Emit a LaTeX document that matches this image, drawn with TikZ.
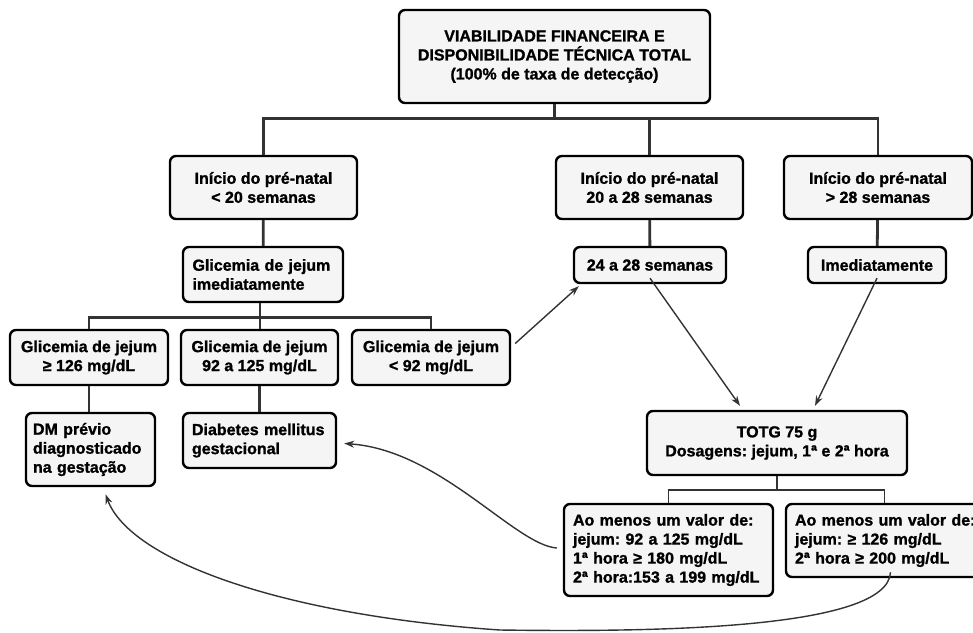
\documentclass[tikz,border=0pt]{standalone}
\usepackage{fontspec}
\setmainfont{Liberation Sans}[BoldFeatures={FakeBold=1.2}]
\usetikzlibrary{arrows.meta}
\definecolor{boxfill}{RGB}{245,245,245}
\definecolor{darkline}{RGB}{51,51,51}

\begin{document}
\frenchspacing
\begin{tikzpicture}[x=1pt,y=-1pt,
  box/.style={draw,line width=2.4pt,rounded corners=6pt,fill=boxfill,align=center,inner sep=0pt,font=\fontsize{16}{19}\selectfont\bfseries},
  lbox/.style={box,align=left,inner xsep=9pt},
  trunk/.style={line width=2.8pt,darkline},
  branch/.style={line width=1.8pt,darkline},
  arrow/.style={-{Stealth[length=10pt,width=7pt]},line width=1.4pt,darkline}
]
  \useasboundingbox (0,0) rectangle (973,632);

  \node[box,minimum width=311,minimum height=93] (top) at (554.5,56.5) {VIABILIDADE FINANCEIRA E\\DISPONIBILIDADE TÉCNICA TOTAL\\(100\% de taxa de detecção)};

  \node[box,minimum width=187,minimum height=63] (pn1) at (263.5,187.5) {Início do pré-natal\\< 20 semanas};
  \node[box,minimum width=187,minimum height=63] (pn2) at (649.5,187.5) {Início do pré-natal\\ 20 a 28 semanas};
  \node[box,minimum width=188,minimum height=63] (pn3) at (878,187.5) {Início do pré-natal\\ > 28 semanas};

  \node[lbox,text width=141,inner xsep=9.5pt,minimum height=55] (gj) at (263,274.5) {Glicemia de jejum\\imediatamente};
  \node[box,minimum width=152,minimum height=36] (i24) at (650,265) {24 a 28 semanas};
  \node[box,minimum width=138,minimum height=36] (imed) at (877,265) {Imediatamente};

  \node[box,minimum width=158,minimum height=55] (g126) at (89,357.5) {Glicemia de jejum\\≥ 126 mg/dL};
  \node[box,minimum width=157,minimum height=55] (g92a) at (259.5,357.5) {Glicemia de jejum\\92 a 125 mg/dL};
  \node[box,minimum width=158,minimum height=55] (g92) at (431,357.5) {Glicemia de jejum\\< 92 mg/dL};

  \node[lbox,text width=115,inner xsep=7pt,minimum height=73] (dmp) at (90.5,449.5) {DM prévio\\diagnosticado\\na gestação};
  \node[lbox,text width=135,minimum height=55] (dmg) at (259.5,440.5) {Diabetes mellitus\\gestacional};

  \node[box,minimum width=260,minimum height=64] (totg) at (777,443) {TOTG 75 g\\Dosagens: jejum, 1ª e 2ª hora};

  \node[lbox,text width=191,minimum height=92] (va) at (668.5,550) {Ao menos um valor de:\\jejum: 92 a 125 mg/dL\\1ª hora ≥ 180 mg/dL\\2ª hora:153 a 199 mg/dL};
  \node[lbox,text width=191,minimum height=73] (vb) at (890.5,540.5) {Ao menos um valor de:\\jejum: ≥ 126 mg/dL\\2ª hora ≥ 200 mg/dL};

  \draw[trunk] (top.south) -- ++(0,14) -| (pn1.north);
  \draw[trunk] (top.south) -- ++(0,14) -| (pn2.north);
  \draw[trunk] (top.south) -- ++(0,14) -| (pn3.north);
  \draw[trunk] (pn1) -- (gj);
  \draw[trunk] (pn2) -- (i24);
  \draw[trunk] (pn3) -- (imed);

  \draw[trunk] ([xshift=-3pt]gj.south) -- ++(0,14) -| (g126.north);
  \draw[trunk] ([xshift=-3pt]gj.south) -- ([xshift=-3pt]gj.south |- g92a.north);
  \draw[trunk] ([xshift=-3pt]gj.south) -- ++(0,14) -| (g92.north);
  \draw[trunk] (g126) -- (g126 |- dmp.north);
  \draw[trunk] (g92a) -- (g92a |- dmg.north);

  \draw[branch] (totg.south) -- ++(0,14) -| (va.north);
  \draw[branch] (totg.south) -- ++(0,14) -| ([xshift=-6pt]vb.north);

  \draw[arrow] ([shift={(4,-14)}]g92.east) -- ([shift={(6,2)}]i24.south west);
  \draw[arrow] ([yshift=6]i24.south) -- ([shift={(-37,-4)}]totg.north);
  \draw[arrow] ([yshift=6]imed.south) -- ([shift={(38,-4)}]totg.north);

  \draw[arrow] ([shift={(-6,-2)}]va.west) .. controls (515,545) and (440,450) .. ([shift={(7,3)}]dmg.east);
  \draw[arrow] ([yshift=6]vb.south) .. controls (888,630) and (650,632) .. (500,630) .. controls (280,615) and (130,560) .. ([shift={(15,7)}]dmp.south);
\end{tikzpicture}
\end{document}
